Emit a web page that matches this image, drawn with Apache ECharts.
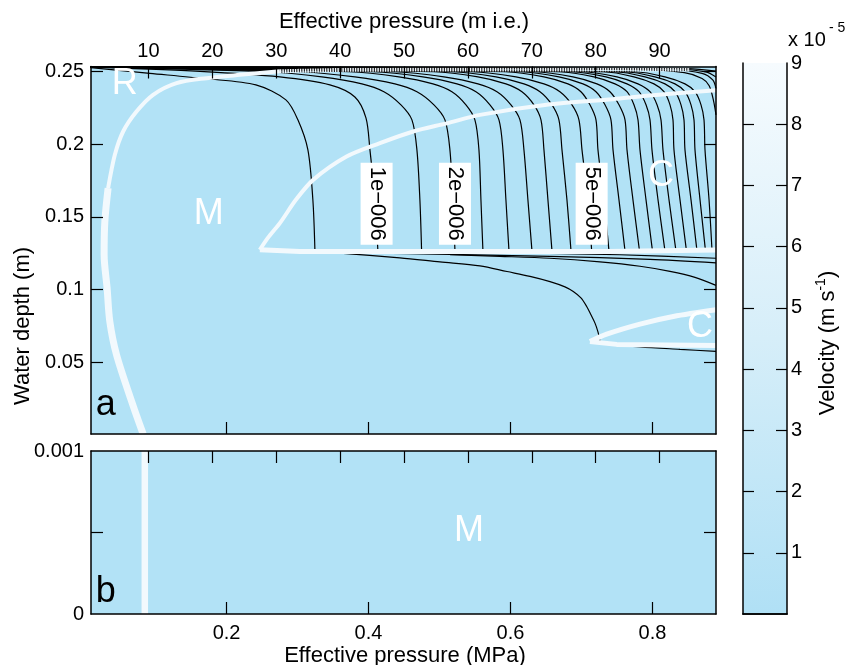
<!DOCTYPE html>
<html><head><meta charset="utf-8">
<script src="https://cdn.jsdelivr.net/npm/echarts@6/dist/echarts.min.js"></script>
<style>html,body{margin:0;padding:0;background:#fff}#c{width:847px;height:665px}</style>
</head><body><div id="c"></div>
<script>
// ---------- data ----------
const mpaTicks = [0.2, 0.4, 0.6, 0.8];                 // bottom axis (MPa)
const mieTicks = [10, 20, 30, 40, 50, 60, 70, 80, 90];  // top axis (m i.e.)
const depthTicksA = [0.05, 0.1, 0.15, 0.2, 0.25];
const depthTicksB = [0, 0.001];
const depthMinorB = [0.0005];
const colorbarTicks = [1, 2, 3, 4, 5, 6, 7, 8, 9];
const colorbarInnerTicks = [1, 2, 3, 4, 5, 6, 7, 8];

// contour levels (m/s) of the velocity field
const contourLevels = [0.5e-6, 1e-6, 1.5e-6, 2e-6, 2.5e-6, 3e-6, 3.5e-6, 4e-6, 4.5e-6, 5e-6,
  5.5e-6, 6e-6, 6.5e-6, 7e-6, 7.5e-6, 8e-6, 8.5e-6, 9e-6, 9.5e-6, 1e-5];

// first two contours (explicit [MPa, m] points)
const contour05 = [[0.0087,0.2524],[0.0919,0.2485],[0.1708,0.2448],[0.2413,0.2406],[0.2836,0.2303],[0.3005,0.2166],[0.3146,0.1960],[0.3216,0.1617],[0.3245,0.1267]];
const contour10 = [[0.0087,0.2528],[0.1624,0.2499],[0.2751,0.2461],[0.3456,0.2406],[0.3808,0.2323],[0.3964,0.2179],[0.4020,0.1960],[0.4091,0.1617],[0.4132,0.1267]];

// remaining upper contours: x (MPa) read at these depths (m), then end at the upper-left corner
const upperRowDepth = [0.1267, 0.1617, 0.1960, 0.2166, 0.2269, 0.2359, 0.2413, 0.2461, 0.2496];
const upperEnd = [0.0087, 0.2528];
const upperContourX = [
  [0.4748,0.4724,0.4682,0.4612,0.4457,0.4217,0.3907,0.3343,0.2568],
  [0.5218,0.5189,0.5147,0.5077,0.4922,0.4682,0.4372,0.3808,0.3033],
  [0.5612,0.5584,0.5556,0.5499,0.5373,0.5175,0.4908,0.4428,0.3724],
  [0.5979,0.5936,0.5894,0.5838,0.5711,0.5514,0.5246,0.4767,0.4062],
  [0.6303,0.6246,0.6190,0.6134,0.6007,0.5810,0.5542,0.5063,0.4358],
  [0.6585,0.6528,0.6472,0.6430,0.6331,0.6162,0.5936,0.5542,0.4922],
  [0.6853,0.6796,0.6726,0.6683,0.6585,0.6416,0.6190,0.5796,0.5175],
  [0.7144,0.7092,0.7008,0.6965,0.6867,0.6697,0.6472,0.6077,0.5457],
  [0.7388,0.7318,0.7233,0.7205,0.7120,0.6993,0.6810,0.6472,0.5936],
  [0.7614,0.7529,0.7445,0.7416,0.7332,0.7205,0.7022,0.6683,0.6148],
  [0.7818,0.7726,0.7642,0.7614,0.7529,0.7402,0.7219,0.6881,0.6345],
  [0.8001,0.7910,0.7825,0.7797,0.7740,0.7642,0.7473,0.7177,0.6697],
  [0.8177,0.8079,0.7994,0.7966,0.7910,0.7811,0.7642,0.7346,0.6867],
  [0.8332,0.8234,0.8149,0.8121,0.8065,0.7966,0.7797,0.7501,0.7022],
  [0.8480,0.8389,0.8304,0.8290,0.8248,0.8163,0.8022,0.7740,0.7318],
  [0.8628,0.8544,0.8459,0.8445,0.8403,0.8318,0.8177,0.7896,0.7473],
  [0.8748,0.8671,0.8600,0.8586,0.8544,0.8459,0.8318,0.8036,0.7614],
  [0.8840,0.8798,0.8741,0.8727,0.8685,0.8600,0.8459,0.8177,0.7755]
];
// higher contours entering from the right edge and hugging the top
const topContour1 = [[0.8896,0.2200],[0.8860,0.2300],[0.8800,0.2400],[0.8700,0.2450],[0.8450,0.2490],[0.7800,0.2510],[0.0087,0.2529]];
const topContour2 = [[0.8896,0.2380],[0.8850,0.2440],[0.8700,0.2485],[0.8300,0.2508],[0.0087,0.2530]];
const topContour3 = [[0.8896,0.2460],[0.8750,0.2495],[0.8300,0.2515],[0.0087,0.2531]];
const topContour4 = [[0.8896,0.2500],[0.8500,0.2518],[0.0087,0.2532]];

// contours below the lower boundary
const lowerContour1 = [[0.3456,0.1257],[0.4442,0.1219],[0.5006,0.1191],[0.5570,0.1164],[0.5951,0.1125],[0.6275,0.1092],[0.6557,0.1056],[0.6768,0.1020],[0.6885,0.0988],[0.6993,0.0944],[0.7074,0.0885],[0.7134,0.0828],[0.7191,0.0771],[0.7233,0.0711],[0.7261,0.0649]];
const lowerContour2 = [[0.5147,0.1240],[0.5852,0.1229],[0.6557,0.1216],[0.7261,0.1191],[0.7825,0.1161],[0.8248,0.1126],[0.8600,0.1085],[0.8896,0.1030]];
const lowerContour3 = [[0.3836,0.1253],[0.5147,0.1243],[0.6557,0.1229],[0.7966,0.1209],[0.8896,0.1185]];
const lowerContour4 = [[0.6134,0.1253],[0.7543,0.1240],[0.8896,0.1216]];
const lowerContour5 = [[0.7261,0.0636],[0.7825,0.0608],[0.8389,0.0591],[0.8896,0.0577]];

// regime boundaries (white)
const rmBoundaryLow = [[0.0825,0.001],[0.0679,0.0210],[0.0450,0.0553],[0.0355,0.0782],[0.0317,0.1011],[0.0275,0.1240],[0.0285,0.1468],[0.0331,0.1697]];
const rmBoundaryHigh = [[0.0331,0.1697],[0.0426,0.1926],[0.0543,0.2086],[0.0731,0.2223],[0.0965,0.2338],[0.1295,0.2418],[0.1718,0.2452],[0.2187,0.2475],[0.2751,0.2499]];
const rmBoundaryTop = [[0.2751,0.2499],[0.3738,0.2510],[0.5852,0.2512],[0.8530,0.2512]];
const cBoundaryUpper = [[0.2469,0.1274],[0.2582,0.1356],[0.2751,0.1457],[0.2977,0.1617],[0.3220,0.1754],[0.3691,0.1914],[0.4161,0.2006],[0.4630,0.2086],[0.5101,0.2142],[0.5570,0.2200],[0.6510,0.2269],[0.7449,0.2308],[0.7919,0.2331],[0.8896,0.2369]];
const cBoundaryLower = [[0.2469,0.1274],[0.3033,0.1263],[0.7375,0.1263],[0.7390,0.1272],[0.8896,0.1272]];
const c2BoundaryUpper = [[0.7120,0.0644],[0.7356,0.0695],[0.7825,0.0764],[0.8294,0.0816],[0.8896,0.0862]];
const c2BoundaryLower = [[0.7120,0.0644],[0.7497,0.0625],[0.8896,0.0618]];
const bBoundary = [[0.0848,0],[0.0848,0.001]];

// labels
const contourLabelText = ['1e\u2212006', '2e\u2212006', '5e\u2212006'];
const contourLabelPos = [[0.4114,0.1590],[0.5218,0.1590],[0.7144,0.1590]];
const regionLabelA = ['R', 'M', 'C', 'C'];
const regionPosA = [[0.0567,0.2413],[0.1750,0.1521],[0.8121,0.1782],[0.8671,0.0745]];
const regionLabelB = ['M'];
const regionPosB = [[0.5415,0.000506]];
const panelLetterPos = {a: [0.0299,0.0210], b: [0.0299,0.000135]};

// ---------- chart ----------
const FONT = '"Liberation Sans", Arial, Helvetica, sans-serif';
const FILL = '#b2e2f6';
const WHITE = '#f2f9fd';
const MPA_MIN = 0.009, MPA_MAX = 0.8896;
const MIE_MIN = 1, MIE_MAX = 98.84;

function mkAxis(o) {
  return {
    type: 'value', gridIndex: o.grid, position: o.pos, min: o.min, max: o.max, z: 10,
    splitLine: {show: false},
    axisLine: {show: true, onZero: false, lineStyle: {color: '#000', width: 1.5}},
    axisTick: {show: o.ticks.length > 0, inside: true, length: o.tickLen || 12, customValues: o.ticks,
      lineStyle: {color: '#000', width: 1.2}},
    axisLabel: {show: !!o.labels, customValues: o.labels || [], fontSize: 20, fontFamily: FONT,
      color: '#000', margin: o.margin || 8}
  };
}

const chart = echarts.init(document.getElementById('c'), null, {renderer: 'canvas'});

const series = [];
function line(data, color, width, xi, yi, z, smooth, type) {
  series.push({type: 'line', xAxisIndex: xi, yAxisIndex: yi, data: data, showSymbol: false, symbol: 'none',
    smooth: smooth, z: z, silent: true, lineStyle: {color: color, width: width, type: type || 'solid', opacity: 1}});
}
// contours
line(contour05, '#000', 1.2, 0, 0, 2, 0.3);
line(contour10, '#000', 1.2, 0, 0, 2, 0.3);
upperContourX.forEach(xs => {
  const pts = xs.map((x, i) => [x, upperRowDepth[i]]);
  pts.push(upperEnd);
  line(pts, '#000', 1.2, 0, 0, 2, 0.3);
});
[topContour1, topContour2, topContour3, topContour4].forEach(d => line(d, '#000', 1.2, 0, 0, 2, 0.3));
[lowerContour1, lowerContour2, lowerContour3, lowerContour4, lowerContour5].forEach(d => line(d, '#000', 1.2, 0, 0, 2, 0.3));
// boundaries
line(rmBoundaryLow, WHITE, 7, 0, 0, 3, 0.3);
line(rmBoundaryHigh, WHITE, 4, 0, 0, 3, 0.3);
line(rmBoundaryTop, WHITE, 4, 0, 0, 3, false, [1.5, 1]);
line(cBoundaryUpper, WHITE, 4, 0, 0, 3, 0.3);
line(cBoundaryLower, WHITE, 5, 0, 0, 3, false);
line(c2BoundaryUpper, WHITE, 5, 0, 0, 3, 0.3);
line(c2BoundaryLower, WHITE, 5, 0, 0, 3, false);
line(bBoundary, WHITE, 6.5, 2, 2, 3, false);

// contour labels
series.push({type: 'scatter', xAxisIndex: 0, yAxisIndex: 0, symbolSize: 0, z: 5, silent: true,
  itemStyle: {opacity: 1},
  data: contourLabelPos.map((p, i) => ({value: p, name: contourLabelText[i]})),
  label: {show: true, position: 'inside', formatter: '{b}', rotate: -90, color: '#000', fontSize: 22,
    fontFamily: FONT, backgroundColor: '#fff', padding: [5, 4], opacity: 1}});
// region labels
series.push({type: 'scatter', xAxisIndex: 0, yAxisIndex: 0, symbolSize: 0, z: 5, silent: true,
  itemStyle: {opacity: 1},
  data: regionPosA.map((p, i) => ({value: p, name: regionLabelA[i]})).concat([{value: panelLetterPos.a, name: 'a', label: {color: '#000'}}]),
  label: {show: true, position: 'inside', formatter: '{b}', color: '#fff', fontSize: 36, fontFamily: FONT, opacity: 1}});
series.push({type: 'scatter', xAxisIndex: 2, yAxisIndex: 2, symbolSize: 0, z: 5, silent: true,
  itemStyle: {opacity: 1},
  data: regionPosB.map((p, i) => ({value: p, name: regionLabelB[i]})).concat([{value: panelLetterPos.b, name: 'b', label: {color: '#000'}}]),
  label: {show: true, position: 'inside', formatter: '{b}', color: '#fff', fontSize: 36, fontFamily: FONT, opacity: 1}});
// colour bar
series.push({type: 'bar', xAxisIndex: 4, yAxisIndex: 4, data: [colorbarTicks[colorbarTicks.length - 1]], barWidth: '100%', z: 1, silent: true,
  itemStyle: {color: new echarts.graphic.LinearGradient(0, 0, 0, 1, [
    {offset: 0, color: '#f6fbfe'}, {offset: 0.5, color: '#d6eef9'}, {offset: 1, color: '#b0e0f5'}])}});

function txt(x, y, text, size, align, rot) {
  return {type: 'text', x: x, y: y, rotation: rot || 0, z: 20, style: {text: text, fontSize: size, fontFamily: FONT,
    font: size + 'px ' + FONT, fill: '#000', align: align, verticalAlign: 'middle', textAlign: align, textVerticalAlign: 'middle'}};
}

const option = {
  animation: false,
  backgroundColor: '#fff',
  grid: [
    {left: 91, top: 66.5, width: 625, height: 367.5, show: true, backgroundColor: FILL, borderWidth: 0},
    {left: 91, top: 451, width: 625, height: 163, show: true, backgroundColor: FILL, borderWidth: 0},
    {left: 743, top: 63, width: 44, height: 551, show: false}
  ],
  xAxis: [
    mkAxis({grid: 0, pos: 'bottom', min: MPA_MIN, max: MPA_MAX, ticks: mpaTicks}),
    mkAxis({grid: 0, pos: 'top', min: MIE_MIN, max: MIE_MAX, ticks: mieTicks, labels: mieTicks, margin: 5}),
    mkAxis({grid: 1, pos: 'bottom', min: MPA_MIN, max: MPA_MAX, ticks: mpaTicks, labels: mpaTicks, margin: 9}),
    mkAxis({grid: 1, pos: 'top', min: MIE_MIN, max: MIE_MAX, ticks: mieTicks}),
    {type: 'category', gridIndex: 2, position: 'bottom', data: ['v'], z: 10,
      axisLine: {show: true, lineStyle: {color: '#000', width: 1.5}}, axisTick: {show: false}, axisLabel: {show: false}},
    {type: 'category', gridIndex: 2, position: 'top', data: ['v'], z: 10,
      axisLine: {show: true, lineStyle: {color: '#000', width: 1.5}}, axisTick: {show: false}, axisLabel: {show: false}}
  ],
  yAxis: [
    mkAxis({grid: 0, pos: 'left', min: 0.001, max: 0.2532, ticks: depthTicksA, labels: depthTicksA, margin: 7}),
    mkAxis({grid: 0, pos: 'right', min: 0.001, max: 0.2532, ticks: depthTicksA}),
    mkAxis({grid: 1, pos: 'left', min: 0, max: 0.001, ticks: depthMinorB, labels: depthTicksB, margin: 7}),
    mkAxis({grid: 1, pos: 'right', min: 0, max: 0.001, ticks: depthMinorB}),
    mkAxis({grid: 2, pos: 'left', min: 0, max: 9, ticks: colorbarInnerTicks, tickLen: 11}),
    mkAxis({grid: 2, pos: 'right', min: 0, max: 9, ticks: colorbarInnerTicks, labels: colorbarTicks, tickLen: 11, margin: 4})
  ],
  series: series,
  graphic: [
    txt(404, 22, 'Effective pressure (m i.e.)', 22, 'center'),
    txt(405, 656, 'Effective pressure (MPa)', 22, 'center'),
    txt(23, 326, 'Water depth (m)', 22, 'center', Math.PI / 2),
    {type: 'text', x: 828, y: 343, rotation: Math.PI / 2, z: 20, style: {text: '{a|Velocity (m s}{b|-1}{a|)}', fill: '#000',
      align: 'center', verticalAlign: 'middle', textAlign: 'center', textVerticalAlign: 'middle',
      rich: {a: {fontSize: 22, lineHeight: 28, fontFamily: FONT, fill: '#000'}, b: {fontSize: 14, lineHeight: 14, verticalAlign: 'top', fontFamily: FONT, fill: '#000'}}}},
    txt(788, 40, 'x 10', 20, 'left'),
    txt(829, 28, '- 5', 14, 'left')
  ]
};
chart.setOption(option);
</script></body></html>
